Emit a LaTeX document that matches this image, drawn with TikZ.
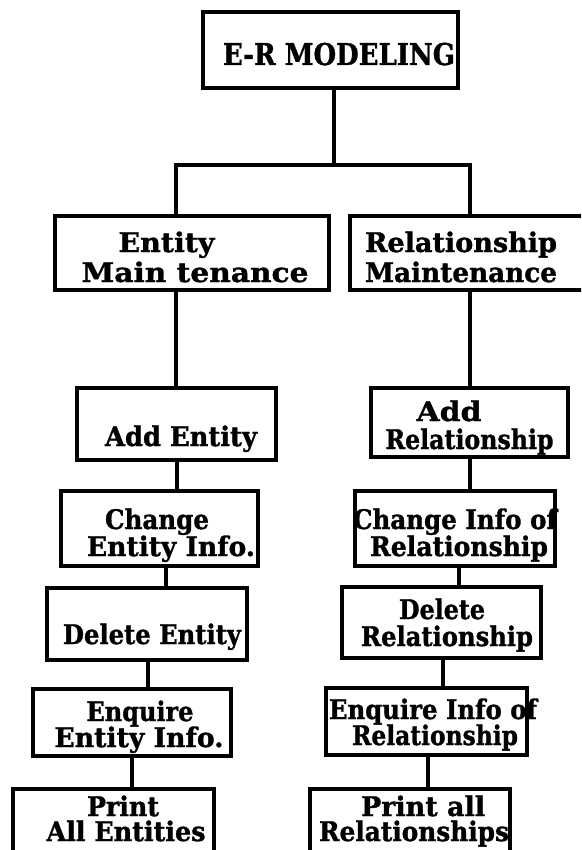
\documentclass[tikz,border=0pt]{standalone}
\usepackage{fontspec}
\setmainfont{DejaVu Serif}
\newfontfamily\heavyfont{DejaVu Serif}[BoldFeatures={FakeBold=1.2}]
\usepackage{graphicx}
\usetikzlibrary{fit}
\newcommand{\fitline}[2]{\resizebox{#1pt}{\height}{#2}}
\begin{document}
\begin{tikzpicture}[x=1pt,y=-1pt,
  box/.style={draw, line width=3.2pt, inner sep=0pt, line join=miter},
  lbl/.style={anchor=base, inner sep=0pt, font=\heavyfont\bfseries\fontsize{27}{27}\selectfont},
  ttl/.style={anchor=base, inner sep=0pt, font=\heavyfont\bfseries\fontsize{30}{30}\selectfont},
  link/.style={line width=3.2pt, line join=miter}]
\useasboundingbox (0,0) rectangle (581,850);
\fill[white] (0,0) rectangle (581,850);
\clip (0,0) rectangle (581,850);

% boxes
\node[box, fit={(203,12)(458,88)}] (top) {};
\node[box, fit={(55,216)(329,290)}] (em) {};
\node[box, fit={(350,216)(592,290)}] (rm) {};
\node[box, fit={(77,388)(276,460)}] (ae) {};
\node[box, fit={(371,388)(568,457)}] (ar) {};
\node[box, fit={(61,491)(258,566)}] (ce) {};
\node[box, fit={(355,491)(555,566)}] (cr) {};
\node[box, fit={(47,588)(247,660)}] (de) {};
\node[box, fit={(342,587)(541,658)}] (dr) {};
\node[box, fit={(33,689)(231,756)}] (ee) {};
\node[box, fit={(326,688)(527,755)}] (er) {};
\node[box, fit={(13,789)(214,880)}] (pe) {};
\node[box, fit={(310,789)(510,880)}] (pr) {};

% junction coordinates
\coordinate (jT) at (334,165);
\coordinate (jL) at (176,165);
\coordinate (jR) at (470,165);
\coordinate (xa) at (177,0);
\coordinate (xb) at (470,0);
\coordinate (xc) at (166,0);
\coordinate (xd) at (459,0);
\coordinate (xe) at (148,0);
\coordinate (xf) at (443,0);
\coordinate (xg) at (132,0);
\coordinate (xh) at (428,0);

% connectors
\draw[link] (top.south -| jT) -- (jT);
\draw[link] (em.north -| jL) -- (jL) -- (jR) -- (rm.north -| jR);
\draw[link] (em.south -| jL) -- (ae.north -| jL);
\draw[link] (rm.south -| jR) -- (ar.north -| jR);
\draw[link] (ae.south -| xa) -- (ce.north -| xa);
\draw[link] (ar.south -| xb) -- (cr.north -| xb);
\draw[link] (ce.south -| xc) -- (de.north -| xc);
\draw[link] (cr.south -| xd) -- (dr.north -| xd);
\draw[link] (de.south -| xe) -- (ee.north -| xe);
\draw[link] (dr.south -| xf) -- (er.north -| xf);
\draw[link] (ee.south -| xg) -- (pe.north -| xg);
\draw[link] (er.south -| xh) -- (pr.north -| xh);

% texts
\node[ttl] (t0) at (339,65) {\fitline{232}{E-R MODELING}};
\node[lbl] (t1) at (166.5,252) {\fitline{96}{Entity}};
\node[lbl] (t2) at (195,282) {\fitline{227}{Main tenance}};
\node[lbl] (t3) at (461,252) {\fitline{192}{Relationship}};
\node[lbl] (t4) at (461,282) {\fitline{192}{Maintenance}};
\node[lbl] (t5) at (181,446) {\fitline{152}{Add Entity}};
\node[lbl] (t6) at (449,421) {\fitline{65}{Add}};
\node[lbl] (t7) at (469.5,449) {\fitline{168}{Relationship}};
\node[lbl] (t8) at (157,529) {\fitline{104}{Change}};
\node[lbl] (t9) at (171,556) {\fitline{168}{Entity Info.}};
\node[lbl] (t10) at (455,529) {\fitline{204}{Change Info of}};
\node[lbl] (t11) at (459,556) {\fitline{178}{Relationship}};
\node[lbl] (t12) at (152,644) {\fitline{178}{Delete Entity}};
\node[lbl] (t13) at (442,619) {\fitline{86}{Delete}};
\node[lbl] (t14) at (447,646) {\fitline{172}{Relationship}};
\node[lbl] (t15) at (140,721) {\fitline{107}{Enquire}};
\node[lbl] (t16) at (139,747) {\fitline{169}{Entity Info.}};
\node[lbl] (t17) at (433,719) {\fitline{208}{Enquire Info of}};
\node[lbl] (t18) at (435,745) {\fitline{166}{Relationship}};
\node[lbl] (t19) at (123,816) {\fitline{72}{Print}};
\node[lbl] (t20) at (126,841) {\fitline{159}{All Entities}};
\node[lbl] (t21) at (423,816) {\fitline{124}{Print all}};
\node[lbl] (t22) at (414,841) {\fitline{190}{Relationships}};
\end{tikzpicture}
\end{document}
